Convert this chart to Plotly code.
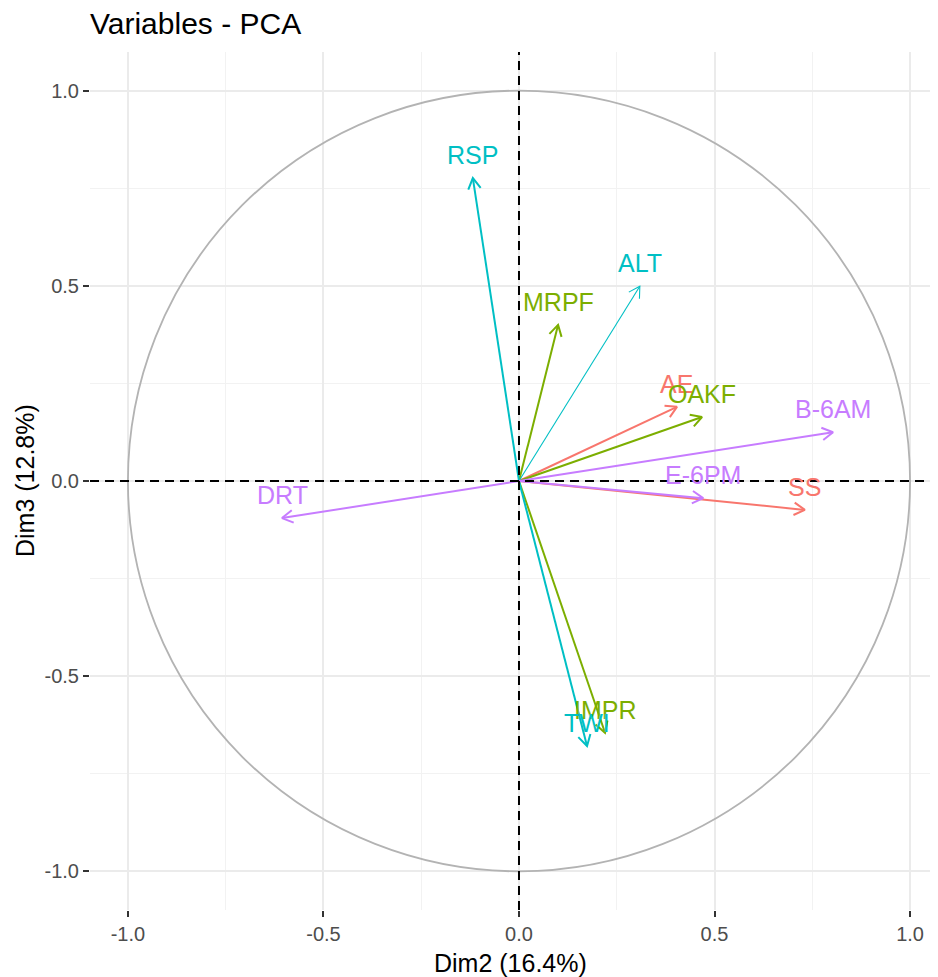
import math
import plotly.graph_objects as go

# PCA variable coordinates on dimensions 2 and 3
variables = ["AE", "SS", "MRPF", "OAKF", "IMPR", "RSP", "ALT", "TWI", "B-6AM", "E-6PM", "DRT"]
dim2 = [0.404, 0.731, 0.100, 0.468, 0.220, -0.118, 0.309, 0.174, 0.803, 0.471, -0.606]
dim3 = [0.190, -0.074, 0.400, 0.164, -0.645, 0.776, 0.499, -0.679, 0.125, -0.044, -0.095]
cluster = ["1", "1", "2", "2", "2", "3", "3", "3", "4", "4", "4"]

axis_ticks = [-1.0, -0.5, 0.0, 0.5, 1.0]
axis_tick_labels = ["-1.0", "-0.5", "0.0", "0.5", "1.0"]

palette = {"1": "#F8766D", "2": "#7CAE00", "3": "#00BFC4", "4": "#C77CFF"}
thin = {"ALT"}
FONT = "Liberation Sans, Arial, sans-serif"

fig = go.Figure()

# correlation circle
fig.add_shape(type="circle", xref="x", yref="y", x0=-1, y0=-1, x1=1, y1=1,
              line=dict(color="#B3B3B3", width=1.8), layer="above")

# dashed reference lines through the origin
fig.add_shape(type="line", xref="paper", yref="y", x0=0, x1=1, y0=0, y1=0,
              line=dict(color="black", width=2.0, dash="9px,6px"), layer="above")
fig.add_shape(type="line", xref="x", yref="paper", x0=0, x1=0, y0=0, y1=1,
              line=dict(color="black", width=2.0, dash="9px,6px"), layer="above")

head_len = 0.032
head_ang = math.radians(30)

for name, x, y, grp in zip(variables, dim2, dim3, cluster):
    col = palette[grp]
    th = math.atan2(y, x)
    wing1 = (x - head_len * math.cos(th - head_ang), y - head_len * math.sin(th - head_ang))
    wing2 = (x - head_len * math.cos(th + head_ang), y - head_len * math.sin(th + head_ang))
    xs = [0, x, None, wing1[0], x, wing2[0]]
    ys = [0, y, None, wing1[1], y, wing2[1]]
    fig.add_trace(go.Scatter(
        x=xs, y=ys, mode="lines", hoverinfo="skip", showlegend=False,
        line=dict(color=col, width=1.1 if name in thin else 2.0),
    ))

for name, x, y, grp in zip(variables, dim2, dim3, cluster):
    fig.add_annotation(x=x, y=y, text=name, showarrow=False, xanchor="center",
                       yanchor="middle", yshift=23,
                       font=dict(family=FONT, size=25, color=palette[grp]))

# axis titles
fig.add_annotation(xref="paper", yref="paper", x=0.5, y=0, yshift=-53,
                   xanchor="center", yanchor="middle", showarrow=False,
                   text="Dim2 (16.4%)", font=dict(family=FONT, size=25, color="black"))
fig.add_annotation(xref="paper", yref="paper", x=0, y=0.5, xshift=-65,
                   xanchor="center", yanchor="middle", showarrow=False, textangle=-90,
                   text="Dim3 (12.8%)", font=dict(family=FONT, size=25, color="black"))

axis_common = dict(
    tickvals=axis_ticks, ticktext=axis_tick_labels,
    ticks="outside", ticklen=6, tickwidth=1.5, tickcolor="#333333",
    tickfont=dict(family=FONT, size=20, color="#4D4D4D"),
    showgrid=True, gridcolor="#EBEBEB", gridwidth=1.8,
    zeroline=False, showline=False,
    minor=dict(dtick=0.25, tick0=0, showgrid=True, gridcolor="#F2F2F2", gridwidth=1.0, ticks=""),
)

fig.update_layout(
    width=938, height=977,
    margin=dict(l=90, r=8, t=52, b=67),
    paper_bgcolor="white", plot_bgcolor="white",
    title=dict(text="Variables - PCA", x=0, xref="paper", xanchor="left",
               y=1 - 23 / 977, yref="container", yanchor="middle",
               font=dict(family=FONT, size=30, color="black")),
    xaxis=dict(range=[-1.097, 1.051], **axis_common),
    yaxis=dict(range=[-1.099, 1.099], **axis_common),
)

fig.write_html("out.html")
